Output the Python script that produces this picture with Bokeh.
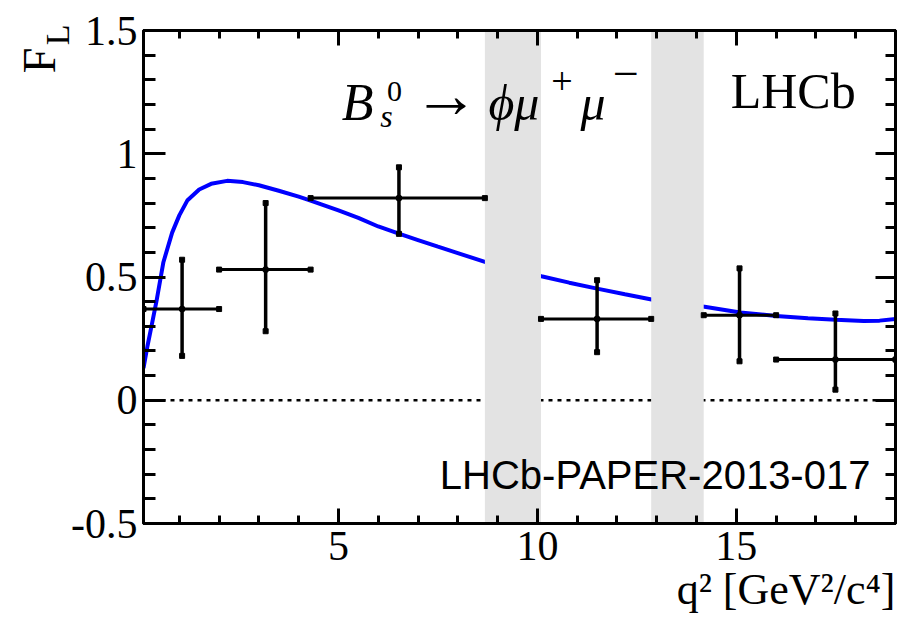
import numpy as np
from bokeh.plotting import figure
from bokeh.models import (Range1d, FixedTicker, LinearAxis, Label, Span, Title,
                          PrintfTickFormatter, ColumnDataSource)
from bokeh.embed import file_html
from bokeh.resources import INLINE

# ---------------- data ----------------
bin_lo = [0.1, 2.0, 4.3, 10.09, 14.18, 16.0]
bin_hi = [2.0, 4.3, 8.68, 12.86, 16.0, 19.0]
bin_x = [1.07, 3.17, 6.52, 11.5, 15.08, 17.49]
fl_val = [0.37, 0.53, 0.82, 0.33, 0.345, 0.165]
fl_err_up = [0.20, 0.27, 0.125, 0.157, 0.19, 0.187]
fl_err_dn = [0.19, 0.25, 0.145, 0.135, 0.187, 0.122]

veto_lo = [8.68, 12.86]
veto_hi = [10.09, 14.18]

sm_q2 = [0.1, 0.2, 0.3, 0.43, 0.6, 0.82, 1.0, 1.2, 1.5, 1.8, 2.2, 2.6, 3.0, 3.5,
         4.0, 4.3, 5.0, 5.5, 6.0, 6.5, 7.0, 7.5, 8.0, 8.7, 9.4, 10.1, 10.8, 11.5,
         12.2, 12.9, 13.5, 14.2, 15.1, 16.0, 16.8, 17.5, 18.2, 18.6, 19.0]
sm_fl = [0.13, 0.22, 0.30, 0.405, 0.56, 0.68, 0.75, 0.81, 0.855, 0.878, 0.89, 0.885,
         0.872, 0.85, 0.826, 0.81, 0.77, 0.74, 0.705, 0.677, 0.65, 0.623, 0.597, 0.56,
         0.53, 0.503, 0.477, 0.453, 0.43, 0.408, 0.393, 0.379, 0.356, 0.342, 0.333,
         0.327, 0.322, 0.323, 0.33]

x_major = [5, 10, 15]
x_minor = list(range(1, 20))
y_major = [-0.5, 0, 0.5, 1, 1.5]
y_minor = [round(-0.5 + 0.1 * i, 2) for i in range(21)]

SERIF = "Liberation Serif"
SANS = "Liberation Sans"
PX_PER_X = 39.8   # horizontal pixels per GeV^2/c^4
PX_PER_Y = 246.5  # vertical pixels per unit of F_L

# ---------------- figure ----------------
p = figure(width=911, height=630, x_range=Range1d(0.1, 19), y_range=Range1d(-0.5, 1.5),
           output_backend="svg", toolbar_location=None,
           min_border_left=143, min_border_right=16, min_border_top=30, min_border_bottom=107)
p.xgrid.visible = False
p.ygrid.visible = False
p.outline_line_color = "black"
p.outline_line_width = 3
p.background_fill_color = "white"
p.border_fill_color = "white"

# SM curve
p.line(sm_q2, sm_fl, line_color="#0000ff", line_width=4)

# zero line (below the vetoed bands)
p.add_layout(Span(location=0, dimension="width", line_color="black", line_width=2.5,
                  line_dash="4 5", level="underlay"))

# vetoed regions
p.quad(left=veto_lo, right=veto_hi, bottom=-0.5, top=1.5, fill_color="#e3e3e3",
       line_color=None)

# data points
src = ColumnDataSource(dict(
    x=bin_x, y=fl_val, lo=bin_lo, hi=bin_hi,
    top=[v + e for v, e in zip(fl_val, fl_err_up)],
    bot=[v - e for v, e in zip(fl_val, fl_err_dn)],
))
p.segment(x0="lo", x1="hi", y0="y", y1="y", source=src, line_color="black", line_width=3)
p.segment(x0="x", x1="x", y0="bot", y1="top", source=src, line_color="black", line_width=3.5)
for col_x, col_y in (("lo", "y"), ("hi", "y"), ("x", "top"), ("x", "bot")):
    p.scatter(x=col_x, y=col_y, source=src, marker="square", size=5,
              fill_color="black", line_color="black")
p.scatter(x="x", y="y", source=src, marker="circle", size=6, fill_color="black",
          line_color="black")

# ---------------- axes ----------------
def style(ax, ticks, minor, major_in, minor_in, labels=True):
    ax.ticker = FixedTicker(ticks=ticks, minor_ticks=minor)
    ax.axis_line_width = 3
    ax.axis_line_color = "black"
    ax.major_tick_in = major_in
    ax.major_tick_out = 0
    ax.minor_tick_in = minor_in
    ax.minor_tick_out = 0
    ax.major_tick_line_width = 3
    ax.minor_tick_line_width = 3
    ax.major_tick_line_color = "black"
    ax.minor_tick_line_color = "black"
    ax.major_label_text_font = SERIF
    ax.major_label_text_color = "black"
    if labels:
        ax.major_label_text_font_size = "42px"
    else:
        ax.major_label_text_font_size = "0px"
        ax.major_label_standoff = 0

xa = p.xaxis[0]
style(xa, x_major, x_minor, 15, 8)
xa.major_label_standoff = 8
ya = p.yaxis[0]
style(ya, y_major, y_minor, 22, 12)
ya.formatter = PrintfTickFormatter(format="%g")
ya.major_label_standoff = 6

top_ax = LinearAxis()
style(top_ax, x_major, x_minor, 15, 8, labels=False)
p.add_layout(top_ax, "above")
right_ax = LinearAxis()
style(right_ax, y_major, y_minor, 20, 10, labels=False)
p.add_layout(right_ax, "right")

# x-axis title (right aligned under the axis)
p.add_layout(Title(text="q² [GeV²/c⁴]", align="right", text_font=SERIF,
                   text_font_size="44px", text_font_style="normal",
                   text_color="black", standoff=0), "below")

# ---------------- texts ----------------
def lab(x, y, text, size_px, font=SERIF, style="normal", align="left", angle=0.0,
        place=None):
    if angle == 0.0:
        y = y + 0.3 * size_px / PX_PER_Y
    else:
        x = x - 0.3 * size_px / PX_PER_X
    lbl = Label(x=x, y=y, text=text, text_font=font,
                text_font_size=f"{size_px}px", text_font_style=style, text_align=align,
                text_baseline="alphabetic", angle=angle, text_color="black")
    if place is None:
        p.add_layout(lbl)
    else:
        p.add_layout(lbl, place)

# y-axis title F_L (rotated, top left, outside the frame)
lab(-2.16, 1.327, "F", 46, angle=np.pi / 2, place="left")
lab(-1.81, 1.44, "L", 34, angle=np.pi / 2, place="above")

# LHCb
lab(18.0, 1.193, "LHCb", 50, align="right")

# paper number
lab(18.37, -0.353, "LHCb-PAPER-2013-017", 40, font=SANS, align="right")

# decay formula  B_s^0 -> phi mu+ mu-
lab(5.08, 1.144, "B", 52, style="italic")
lab(6.05, 1.115, "s", 32, style="italic")
lab(6.22, 1.217, "0", 30)
lab(6.88, 1.16, "→", 66)
lab(8.77, 1.144, "ϕμ", 50, style="italic")
lab(10.35, 1.245, "+", 38)
lab(11.08, 1.144, "μ", 50, style="italic")
lab(11.9, 1.27, "−", 46)

open("out.html", "w").write(file_html(p, INLINE))
